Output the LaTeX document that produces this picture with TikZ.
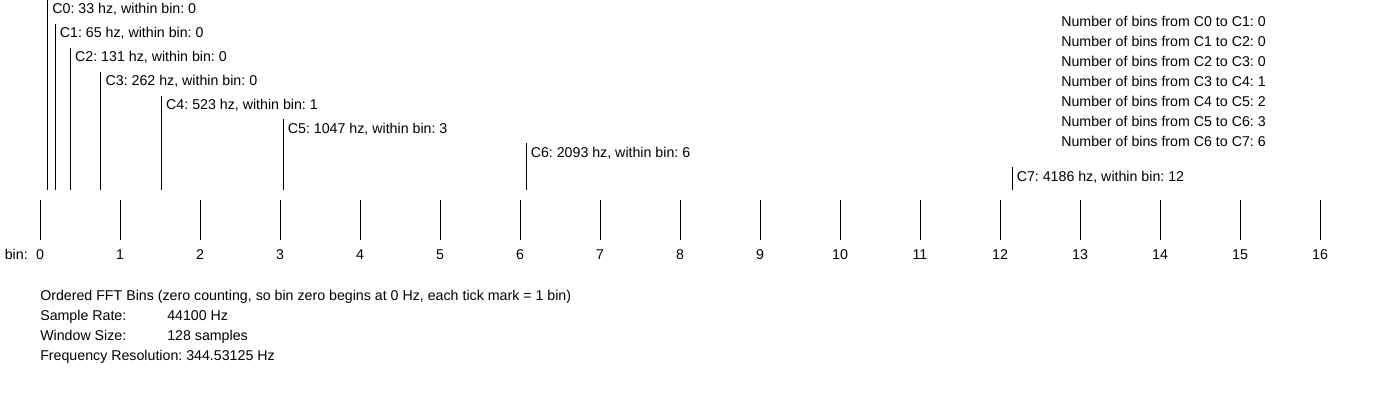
\documentclass[tikz,border=0pt]{standalone}
\usepackage{fontspec}
\setmainfont{Liberation Sans}
\usetikzlibrary{positioning, calc}
\frenchspacing
\tikzset{
  lbl/.style    = {font=\fontsize{10.1}{11}\selectfont, inner sep=0pt,
                   anchor=base west},
  tickln/.style = {line width=0.7pt},
  noteln/.style = {line width=0.7pt},
}

\begin{document}
\begin{tikzpicture}[x=0.025cm, y=-0.025cm]
\useasboundingbox (0,0) rectangle (1400,400);

% ============================================================
%  Bin axis: one tick per FFT bin
% ============================================================

\def\binw{80}          % bin width (px)
\def\fres{344.53125}   % frequency resolution (Hz)

\node[lbl, anchor=base east] (binlbl) at (28, 259) {bin:};
\foreach \b in {0,...,16} {
  \coordinate (tktop\b) at ({40+\binw*\b}, 200);
  \coordinate (tkbot\b) at ({40+\binw*\b}, 240);
  \draw[tickln] (tktop\b) -- (tkbot\b);
  \node[lbl, anchor=base] (bin\b) at ({40+\binw*\b}, 259) {\b};
}

% ============================================================
%  Note markers C0 ... C7
% ============================================================

\foreach \n/\f/\w in {0/33/0, 1/65/0, 2/131/0, 3/262/0,
                      4/523/1, 5/1047/3, 6/2093/6, 7/4186/12} {
  \pgfmathsetmacro\xn{40+\binw*(\f/\fres)}
  \pgfmathsetmacro\yb{14+23.9*\n}
  \coordinate (ntop\n) at (\xn, {max(\yb-14,0)});
  \coordinate (nbot\n) at (\xn, 190);
  \draw[noteln] (ntop\n) -- (nbot\n);
  \node[lbl] (note\n) at ({\xn+4.5}, \yb) {C\n: \f\ hz, within bin: \w};
}

% --- Bins between successive notes ---
\foreach \a/\c in {0/0, 1/0, 2/0, 3/1, 4/2, 5/3, 6/6} {
  \pgfmathtruncatemacro\bn{\a+1}
  \node[lbl] (gap\a) at (1061, {27+20*\a})
    {Number of bins from C\a\ to C\bn: \c};
}

% ============================================================
%  Legend below the axis
% ============================================================

\node[lbl] (info0) at (40, 300)
  {Ordered FFT Bins (zero counting, so bin zero begins at 0 Hz, each tick mark = 1 bin)};
\node[lbl] (info1) at (40, 320) {Sample Rate:};
\node[lbl] (val1)  at (167, 320) {44100 Hz};
\node[lbl] (info2) at (40, 340) {Window Size:};
\node[lbl] (val2)  at (167, 340) {128 samples};
\node[lbl] (info3) at (40, 360) {Frequency Resolution: 344.53125 Hz};

\end{tikzpicture}
\end{document}
